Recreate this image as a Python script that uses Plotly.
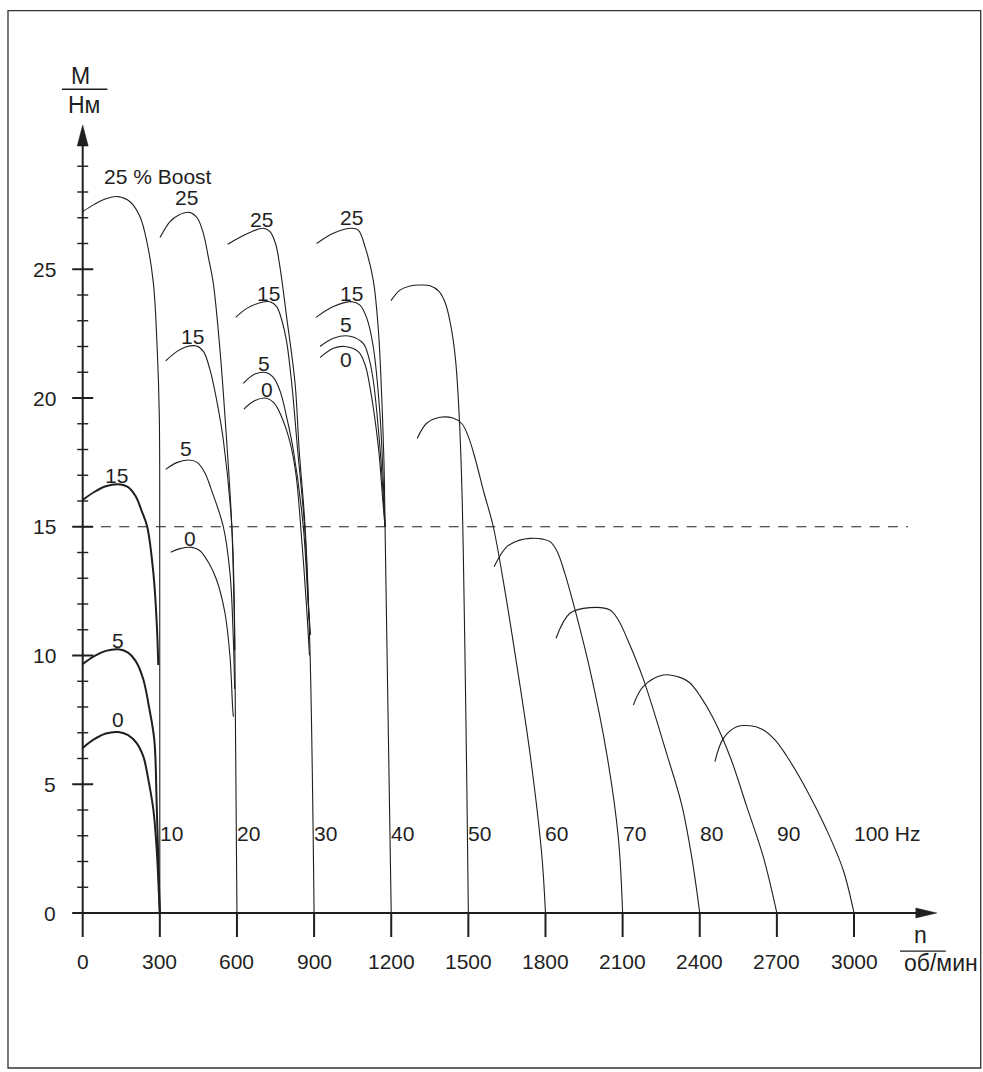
import plotly.graph_objects as go

# ---------------- data ----------------
# 10 Hz
n_f10_b25 = [0, 45, 90, 138, 184, 223, 251, 275, 290, 298, 299.6, 300]
m_f10_b25 = [27.24, 27.52, 27.74, 27.82, 27.62, 27.04, 26.0, 24.45, 21.86, 19.27, 14.0, 0]
n_f10_b15 = [0, 45, 90, 138, 175, 205, 230, 251, 275, 288, 294]
m_f10_b15 = [16.04, 16.35, 16.57, 16.65, 16.55, 16.2, 15.6, 15.0, 13.19, 11.25, 9.63]
n_f10_b5 = [0, 45, 90, 138, 175, 205, 235, 258, 278.5, 288, 295.5, 300]
m_f10_b5 = [9.67, 9.98, 10.18, 10.24, 10.12, 9.8, 9.1, 8.0, 6.72, 4.13, 1.54, 0]
n_f10_b0 = [0, 45, 90, 138, 175, 210, 236, 255, 275, 288, 297, 300]
m_f10_b0 = [6.41, 6.75, 6.97, 7.03, 6.92, 6.6, 6.07, 5.2, 4.0, 2.45, 0.63, 0]
# 20 Hz
n_f20_b25 = [300.7, 339.5, 372, 414.7, 445, 469, 490, 508, 534, 553.5, 580, 592, 600]
m_f20_b25 = [26.23, 26.85, 27.1, 27.21, 27.0, 26.4, 25.4, 24.45, 21.86, 19.27, 15.0, 10.0, 0]
n_f20_b15 = [322.7, 365.6, 400, 443, 470, 495, 521, 547, 580, 592]
m_f20_b15 = [21.44, 21.8, 21.98, 22.02, 21.8, 21.1, 19.92, 18.37, 15.0, 10.2]
n_f20_b5 = [322.7, 365.6, 411, 445, 475, 500, 547, 573, 586, 591]
m_f20_b5 = [17.23, 17.49, 17.59, 17.5, 17.1, 16.45, 15.0, 13.19, 10.6, 8.7]
n_f20_b0 = [342, 378.5, 424, 455, 490, 521, 553.5, 573, 583, 586]
m_f20_b0 = [14.01, 14.15, 14.2, 14.08, 13.6, 12.93, 11.64, 9.95, 8.01, 7.62]
# 30 Hz
n_f30_b25 = [564, 612, 657, 702.5, 728.5, 750, 767, 793, 826, 842, 865, 884, 900]
m_f30_b25 = [25.97, 26.24, 26.46, 26.59, 26.46, 26.0, 25.1, 23.16, 20.57, 17.98, 15.0, 10.2, 0]
n_f30_b15 = [595, 638, 690, 728.5, 754.5, 775, 793, 813, 836, 863, 880]
m_f30_b15 = [23.13, 23.48, 23.7, 23.74, 23.55, 23.0, 22.2, 20.57, 17.98, 15.0, 11.4]
n_f30_b5 = [624.7, 670, 715.6, 745, 770, 793, 819, 858, 876, 886]
m_f30_b5 = [20.57, 20.93, 20.98, 20.75, 20.2, 19.27, 18.0, 15.0, 12.2, 10.8]
n_f30_b0 = [627, 670, 715.6, 745, 770, 806, 830, 848, 870, 882]
m_f30_b0 = [19.57, 19.9, 19.99, 19.8, 19.35, 18.3, 17.0, 15.0, 12.0, 10.0]
# 40 Hz
n_f40_b25 = [910, 975, 1046, 1072, 1098, 1130, 1150, 1163, 1172, 1176, 1200]
m_f40_b25 = [26.0, 26.4, 26.59, 26.52, 25.88, 24.58, 22.64, 20.05, 17.46, 15.0, 0]
n_f40_b15 = [907.5, 975, 1046, 1078.5, 1105, 1130, 1156, 1169, 1176]
m_f40_b15 = [23.13, 23.55, 23.74, 23.61, 23.1, 22.0, 19.4, 16.8, 15.0]
n_f40_b5 = [923, 975, 1040, 1091, 1112, 1130, 1156, 1169, 1176]
m_f40_b5 = [22.0, 22.32, 22.4, 22.12, 21.6, 20.7, 18.1, 16.17, 15.0]
n_f40_b0 = [923, 975, 1020, 1072, 1098, 1117, 1150, 1167, 1176]
m_f40_b0 = [21.57, 21.93, 22.0, 21.8, 21.3, 20.44, 18.1, 16.04, 15.0]
# 50 ... 100 Hz
n_f50 = [1199, 1234, 1273, 1312, 1351, 1385, 1410, 1432, 1450, 1464, 1474, 1480, 1486, 1494, 1500]
m_f50 = [23.78, 24.19, 24.35, 24.39, 24.36, 24.15, 23.7, 22.8, 21.5, 19.4, 16.8, 14.2, 10.6, 5.0, 0]
n_f60 = [1301, 1338, 1390, 1440, 1475, 1500, 1525, 1560, 1597, 1642.5, 1681.4, 1739.7, 1785, 1800]
m_f60 = [18.43, 19.02, 19.25, 19.22, 19.0, 18.5, 17.7, 16.35, 15.0, 12.5, 10.08, 6.2, 2.33, 0]
n_f70 = [1600, 1649, 1700, 1740, 1790, 1818, 1845, 1875, 1908, 1973, 2038, 2083, 2100]
m_f70 = [13.45, 14.22, 14.48, 14.55, 14.52, 14.42, 14.05, 13.2, 12.03, 9.44, 6.2, 2.96, 0]
n_f80 = [1841, 1895, 1973, 2051, 2085, 2120, 2180, 2271, 2330, 2370, 2400]
m_f80 = [10.67, 11.64, 11.86, 11.77, 11.35, 10.6, 9.1, 6.2, 4.2, 2.1, 0]
n_f90 = [2142, 2180, 2258, 2323, 2360, 2400, 2453, 2518, 2583, 2647, 2700]
m_f90 = [8.08, 8.79, 9.24, 9.15, 8.95, 8.45, 7.55, 6.07, 4.13, 2.19, 0]
n_f100 = [2459, 2492, 2544, 2595, 2640, 2690, 2738, 2816, 2894, 2958, 3000]
m_f100 = [5.88, 6.78, 7.23, 7.27, 7.15, 6.75, 6.1, 4.78, 3.22, 1.67, 0]

# boost labels on the curves
boost_label_text = ["15", "5", "0", "25", "15", "5", "0", "25", "15", "5", "0", "25", "15", "5", "0"]
boost_label_n = [132, 138.5, 138.5, 405, 426, 402, 417, 696, 722, 706, 716, 1046, 1044, 1023, 1023]
boost_label_m = [17.0, 10.6, 7.5, 27.8, 22.38, 18.05, 14.55, 26.94, 24.07, 21.35, 20.34, 27.02, 24.07, 22.87, 21.51]

# frequency labels at the curve ends
hz_label_text = ["10", "20", "30", "40", "50", "60", "70", "80", "90", "100 Hz"]
hz_label_n = [300, 600, 900, 1200, 1500, 1800, 2100, 2400, 2700, 3000]
hz_label_m = 3.1

# axes
x_ticks = [0, 300, 600, 900, 1200, 1500, 1800, 2100, 2400, 2700, 3000]
x_tick_labels = ["0", "300", "600", "900", "1200", "1500", "1800", "2100", "2400", "2700", "3000"]
y_ticks = [0, 5, 10, 15, 20, 25]
y_tick_labels = ["0", "5", "10", "15", "20", "25"]
y_minor_ticks = [1, 2, 3, 4, 6, 7, 8, 9, 11, 12, 13, 14, 16, 17, 18, 19, 21, 22, 23, 24, 26, 27, 28, 29]
ref_level = 15          # dashed reference line
dashed_end_n = 3210
x_arrow_tip = 3322
y_arrow_tip = 30.6

# ---------------- layout helpers ----------------
W, H = 983, 1072
PX0, PXU = 82.7, 77.13 / 300.0     # x=0 pixel, pixels per rpm
PY0, PYU = 913.0, 25.75            # y=0 pixel, pixels per Nm
x_range = [-PX0 / PXU, (W - PX0) / PXU]
y_range = [-(H - PY0) / PYU, PY0 / PYU]

INK = "#1f1f1f"
FONT = dict(family="Liberation Sans, Arial, sans-serif", size=21, color=INK)
UNIT_FONT = dict(family="Liberation Sans, Arial, sans-serif", size=23, color=INK)

fig = go.Figure()

thin = [
    (n_f10_b25, m_f10_b25),
    (n_f20_b25, m_f20_b25), (n_f20_b15, m_f20_b15), (n_f20_b5, m_f20_b5), (n_f20_b0, m_f20_b0),
    (n_f30_b25, m_f30_b25), (n_f30_b15, m_f30_b15), (n_f30_b5, m_f30_b5), (n_f30_b0, m_f30_b0),
    (n_f40_b25, m_f40_b25), (n_f40_b15, m_f40_b15), (n_f40_b5, m_f40_b5), (n_f40_b0, m_f40_b0),
    (n_f50, m_f50), (n_f60, m_f60), (n_f70, m_f70), (n_f80, m_f80), (n_f90, m_f90), (n_f100, m_f100),
]
bold = [(n_f10_b15, m_f10_b15), (n_f10_b5, m_f10_b5), (n_f10_b0, m_f10_b0)]

for xs, ys in thin:
    fig.add_trace(go.Scatter(x=xs, y=ys, mode="lines",
                             line=dict(color=INK, width=1.1, shape="spline", smoothing=1.0),
                             hoverinfo="skip", showlegend=False))
for xs, ys in bold:
    fig.add_trace(go.Scatter(x=xs, y=ys, mode="lines",
                             line=dict(color=INK, width=2.0, shape="spline", smoothing=1.0),
                             hoverinfo="skip", showlegend=False))

shapes = []
# frame
shapes.append(dict(type="rect", xref="paper", yref="paper",
                   x0=8 / W, x1=980.7 / W, y0=1 - 1068 / H, y1=1 - 10.7 / H,
                   line=dict(color="#333", width=1.3)))
# axis lines
shapes.append(dict(type="line", xref="x", yref="y", x0=0, x1=x_arrow_tip - 60, y0=0, y1=0,
                   line=dict(color=INK, width=2)))
shapes.append(dict(type="line", xref="x", yref="y", x0=0, x1=0, y0=0, y1=y_arrow_tip - 0.6,
                   line=dict(color=INK, width=2)))
# arrow heads
shapes.append(dict(type="path", xref="x", yref="y", xsizemode="pixel", ysizemode="pixel",
                   xanchor=x_arrow_tip, yanchor=0, path="M0,0 L-21,5 L-21,-5 Z",
                   fillcolor=INK, line=dict(color=INK, width=0.5)))
shapes.append(dict(type="path", xref="x", yref="y", xsizemode="pixel", ysizemode="pixel",
                   xanchor=0, yanchor=y_arrow_tip, path="M0,0 L-5.5,-21 L5.5,-21 Z",
                   fillcolor=INK, line=dict(color=INK, width=0.5)))
# x ticks
for v in x_ticks:
    shapes.append(dict(type="line", xref="x", yref="y", ysizemode="pixel", yanchor=0,
                       x0=v, x1=v, y0=0, y1=-24, line=dict(color=INK, width=2)))
# y ticks
for v in y_ticks:
    shapes.append(dict(type="line", xref="x", yref="y", xsizemode="pixel", xanchor=0,
                       x0=-10.5, x1=10.5, y0=v, y1=v, line=dict(color=INK, width=2)))
for v in y_minor_ticks:
    shapes.append(dict(type="line", xref="x", yref="y", xsizemode="pixel", xanchor=0,
                       x0=-5.5, x1=5.5, y0=v, y1=v, line=dict(color=INK, width=1.4)))
# dashed reference line
shapes.append(dict(type="line", xref="x", yref="y", x0=0, x1=dashed_end_n, y0=ref_level, y1=ref_level,
                   line=dict(color=INK, width=1.1, dash="10px,8.3px")))
# unit fraction bars
shapes.append(dict(type="line", xref="x", yref="y", x0=-81, x1=96, y0=31.99, y1=31.99,
                   line=dict(color=INK, width=1.3)))
shapes.append(dict(type="line", xref="x", yref="y", x0=3179, x1=3357, y0=-1.48, y1=-1.48,
                   line=dict(color=INK, width=1.3)))

ann = []
for t, v in zip(x_tick_labels, x_ticks):
    ann.append(dict(x=v, y=-1.9, text=t, showarrow=False, xanchor="center", yanchor="middle"))
for t, v in zip(y_tick_labels, y_ticks):
    ann.append(dict(x=0, y=v, text=t, showarrow=False, xanchor="right", yanchor="middle", xshift=-25))
for t, xv, yv in zip(boost_label_text, boost_label_n, boost_label_m):
    ann.append(dict(x=xv, y=yv, text=t, showarrow=False, xanchor="center", yanchor="middle"))
for t, xv in zip(hz_label_text, hz_label_n):
    ann.append(dict(x=xv, y=hz_label_m, text=t, showarrow=False, xanchor="left", yanchor="middle", xshift=-2))
ann.append(dict(x=293, y=28.62, text="25 % Boost", showarrow=False, xanchor="center", yanchor="middle"))
ann.append(dict(x=-10.5, y=32.51, text="M", showarrow=False, xanchor="center", yanchor="middle", font=UNIT_FONT))
ann.append(dict(x=5, y=31.39, text="Нм", showarrow=False, xanchor="center", yanchor="middle", font=UNIT_FONT))
ann.append(dict(x=3260, y=-0.85, text="n", showarrow=False, xanchor="center", yanchor="middle", font=UNIT_FONT))
ann.append(dict(x=3337, y=-1.95, text="об/мин", showarrow=False, xanchor="center", yanchor="middle", font=UNIT_FONT))

fig.update_layout(
    width=W, height=H,
    margin=dict(l=0, r=0, t=0, b=0),
    paper_bgcolor="white", plot_bgcolor="white",
    font=FONT,
    showlegend=False,
    xaxis=dict(range=x_range, visible=False, fixedrange=True),
    yaxis=dict(range=y_range, visible=False, fixedrange=True),
    shapes=shapes,
    annotations=ann,
)

fig.write_html("out.html",
               config={"displayModeBar": False},
               post_script="document.body.style.margin='0';document.body.style.overflow='hidden';")
